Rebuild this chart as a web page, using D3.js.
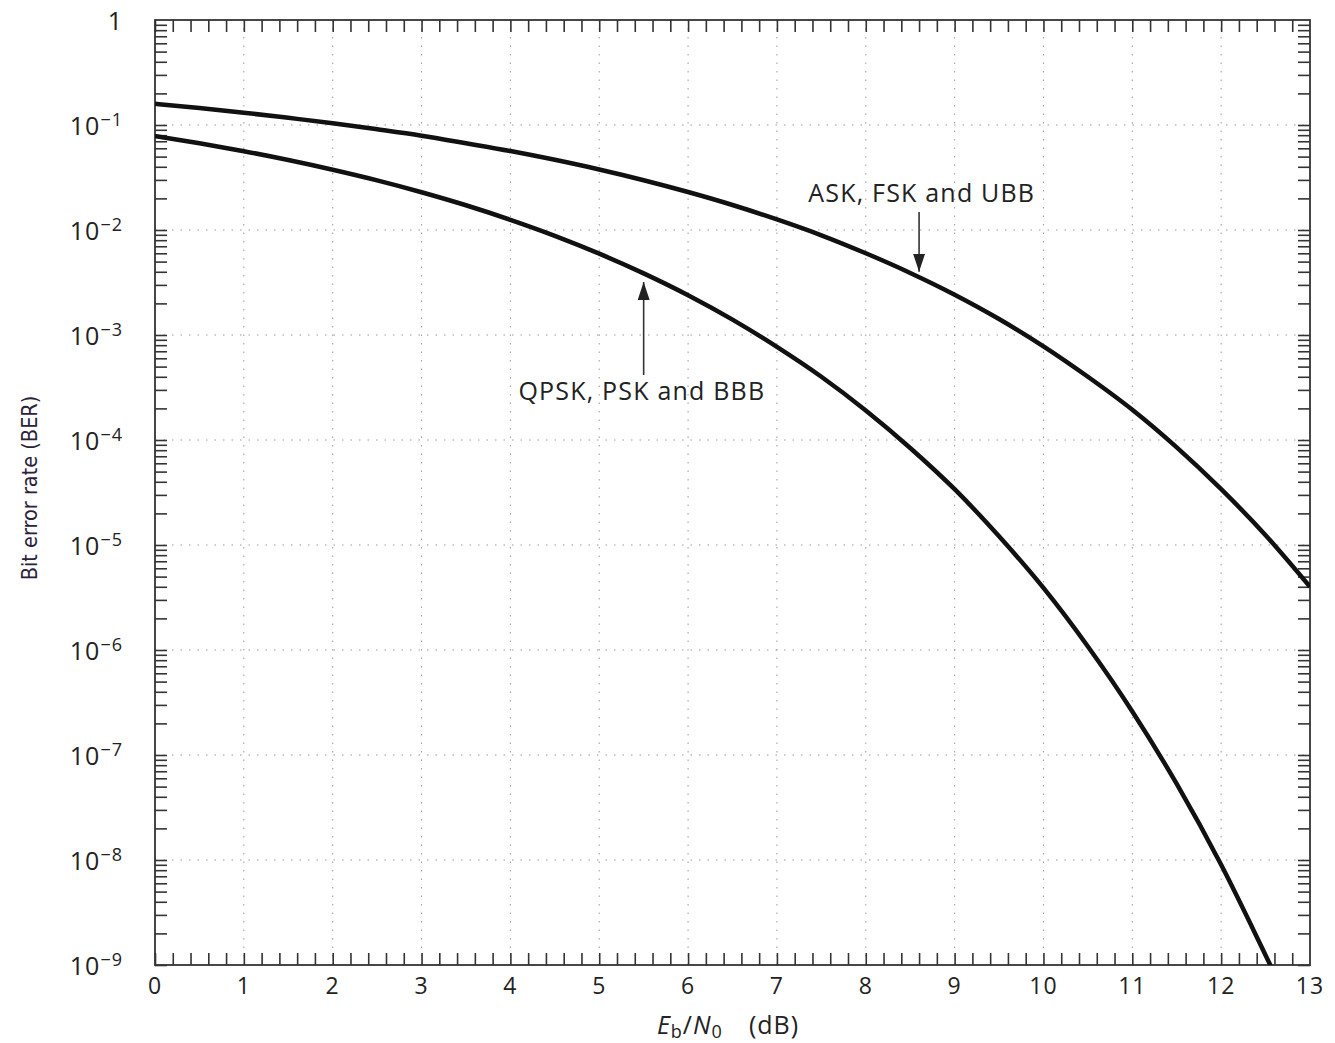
<!DOCTYPE html>
<html>
<head>
<meta charset="utf-8">
<script src="https://cdn.jsdelivr.net/npm/d3@7"></script>
<style>
  body { margin: 0; background: #fff; }
  svg { display: block; }
  .tick-lbl { font-family: "Open Sans", "Noto Sans", sans-serif; fill: #222; }
</style>
</head>
<body>
<svg width="1335" height="1043"></svg>
<script>
// Eb/N0 in dB at half-dB steps
var ebno = [0, 0.5, 1, 1.5, 2, 2.5, 3, 3.5, 4, 4.5, 5, 5.5, 6, 6.5, 7, 7.5, 8, 8.5, 9, 9.5,
            10, 10.5, 11, 11.5, 12, 12.5, 13];

// upper curve: ASK, FSK and UBB
var berAsk = [0.159, 0.145, 0.131, 0.117, 0.104, 0.091, 0.079, 0.067, 0.0565, 0.0466,
              0.0377, 0.0298, 0.023, 0.0173, 0.0126, 0.0089, 0.006, 0.0039, 0.00242, 0.00142,
              7.8e-4, 4.0e-4, 1.94e-4, 8.5e-5, 3.4e-5, 1.24e-5, 4.0e-6];

// lower curve: QPSK, PSK and BBB
var berPsk = [0.0786, 0.0671, 0.0563, 0.0464, 0.0375, 0.0297, 0.0229, 0.0172, 0.0125, 0.0088,
              0.00595, 0.00386, 0.00239, 0.0014, 7.7e-4, 4.0e-4, 1.91e-4, 8.4e-5, 3.4e-5, 1.21e-5,
              3.9e-6, 1.08e-6, 2.6e-7, 5.3e-8, 9.0e-9, 1.24e-9, 1.6e-10];

var xTicks = [0, 1, 2, 3, 4, 5, 6, 7, 8, 9, 10, 11, 12, 13];
var yDecades = [0, -1, -2, -3, -4, -5, -6, -7, -8, -9];

var svg = d3.select("svg");
var pLeft = 155, pRight = 1310, pTop = 20, pBottom = 965;

var x = d3.scaleLinear().domain([0, 13]).range([pLeft, pRight]);
var y = d3.scaleLog().domain([1e-9, 1]).range([pBottom, pTop]);

// grid
var grid = svg.append("g").attr("class", "grid");
grid.selectAll("line.gx")
    .data(xTicks.slice(1, -1))
    .enter().append("line")
    .attr("x1", function(d) { return x(d); })
    .attr("x2", function(d) { return x(d); })
    .attr("y1", pTop).attr("y2", pBottom)
    .attr("stroke", "#9a9a9a").attr("stroke-width", 1)
    .attr("stroke-dasharray", "1.5,7");
grid.selectAll("line.gy")
    .data(yDecades.slice(1, -1))
    .enter().append("line")
    .attr("y1", function(d) { return y(Math.pow(10, d)); })
    .attr("y2", function(d) { return y(Math.pow(10, d)); })
    .attr("x1", pLeft).attr("x2", pRight)
    .attr("stroke", "#9a9a9a").attr("stroke-width", 1)
    .attr("stroke-dasharray", "1.5,7");

// minor tick values
var xMinor = d3.range(0, 65).map(function(i) { return i / 5; });
var yMinor = [];
yDecades.slice(1).forEach(function(e) {
    for (var k = 1; k <= 9; k++) yMinor.push(k * Math.pow(10, e));
});

function styleAxis(g) {
    g.select(".domain").remove();
    g.selectAll(".tick line").attr("stroke", "#333").attr("stroke-width", 1.6);
}

svg.append("g").attr("transform", "translate(0," + pBottom + ")")
    .call(d3.axisBottom(x).tickValues(xMinor).tickSize(-12).tickFormat(""))
    .call(styleAxis);
svg.append("g").attr("transform", "translate(0," + pTop + ")")
    .call(d3.axisTop(x).tickValues(xMinor).tickSize(-12).tickFormat(""))
    .call(styleAxis);
svg.append("g").attr("transform", "translate(" + pLeft + ",0)")
    .call(d3.axisLeft(y).tickValues(yMinor).tickSize(-12).tickFormat(""))
    .call(styleAxis);
svg.append("g").attr("transform", "translate(" + pRight + ",0)")
    .call(d3.axisRight(y).tickValues(yMinor).tickSize(-12).tickFormat(""))
    .call(styleAxis);

// frame
svg.append("rect")
    .attr("x", pLeft).attr("y", pTop)
    .attr("width", pRight - pLeft).attr("height", pBottom - pTop)
    .attr("fill", "none").attr("stroke", "#333").attr("stroke-width", 1.8);

// x tick labels
svg.append("g").selectAll("text")
    .data(xTicks)
    .enter().append("text")
    .attr("class", "tick-lbl")
    .attr("x", function(d) { return x(d); })
    .attr("y", pBottom + 29)
    .attr("text-anchor", "middle")
    .attr("font-size", 23)
    .attr("letter-spacing", 1)
    .text(function(d) { return d; });

// y tick labels
var yl = svg.append("g").selectAll("text")
    .data(yDecades)
    .enter().append("text")
    .attr("class", "tick-lbl")
    .attr("x", 123)
    .attr("y", function(d) { return y(Math.pow(10, d)) + 10; })
    .attr("text-anchor", "end")
    .attr("font-size", 25)
    .attr("letter-spacing", 1);
yl.each(function(d) {
    var t = d3.select(this);
    if (d === 0) {
        t.text("1");
    } else {
        t.append("tspan").text("10");
        t.append("tspan").attr("font-size", 18).attr("dy", -9).text("\u2212" + (-d));
    }
});

// axis titles
svg.append("text")
    .attr("transform", "translate(37," + 488 + ") rotate(-90)")
    .attr("text-anchor", "middle")
    .attr("font-family", "'DejaVu Sans Condensed', 'Liberation Sans Narrow', sans-serif")
    .attr("font-size", 21.5)
    .attr("fill", "#2a2238")
    .text("Bit error rate (BER)");

var xt = svg.append("text")
    .attr("x", 728).attr("y", 1034)
    .attr("text-anchor", "middle")
    .attr("font-family", "'Open Sans', sans-serif")
    .attr("font-size", 25)
    .attr("letter-spacing", 1)
    .attr("fill", "#222");
xt.append("tspan").attr("font-style", "italic").text("E");
xt.append("tspan").attr("font-size", 18).attr("dy", 4).text("b");
xt.append("tspan").attr("dy", -4).text("/");
xt.append("tspan").attr("font-style", "italic").text("N");
xt.append("tspan").attr("font-size", 18).attr("dy", 4).text("0");
xt.append("tspan").attr("dy", -4).text("\u2003(dB)");

// curves
svg.append("clipPath").attr("id", "plot-clip")
    .append("rect").attr("x", pLeft).attr("y", pTop)
    .attr("width", pRight - pLeft).attr("height", pBottom - pTop);

var line = d3.line()
    .x(function(d) { return x(d[0]); })
    .y(function(d) { return y(d[1]); })
    .curve(d3.curveMonotoneX);

[berAsk, berPsk].forEach(function(ser) {
    svg.append("path")
        .datum(d3.zip(ebno, ser))
        .attr("clip-path", "url(#plot-clip)")
        .attr("fill", "none")
        .attr("stroke", "#111")
        .attr("stroke-width", 4.5)
        .attr("d", line);
});

// annotations
svg.append("defs").append("marker")
    .attr("id", "head").attr("viewBox", "0 0 10 10")
    .attr("refX", 10).attr("refY", 5)
    .attr("markerWidth", 18).attr("markerHeight", 12)
    .attr("markerUnits", "userSpaceOnUse")
    .attr("preserveAspectRatio", "none")
    .attr("orient", "auto")
    .append("path").attr("d", "M0,0 L10,5 L0,10 z").attr("fill", "#222");

var notes = [
    { text: "ASK, FSK and UBB", lx: 8.63, ly: 0.0185, ax: 8.6, y0: 0.0148, y1: 0.0040 },
    { text: "QPSK, PSK and BBB", lx: 5.48, ly: 2.4e-4, ax: 5.5, y0: 4.16e-4, y1: 0.0032 }
];
notes.forEach(function(n) {
    svg.append("line")
        .attr("x1", x(n.ax)).attr("x2", x(n.ax))
        .attr("y1", y(n.y0)).attr("y2", y(n.y1))
        .attr("stroke", "#333").attr("stroke-width", 1.6)
        .attr("marker-end", "url(#head)");
    svg.append("text")
        .attr("x", x(n.lx)).attr("y", y(n.ly))
        .attr("text-anchor", "middle")
        .attr("font-family", "'Open Sans', sans-serif")
        .attr("font-size", 25)
        .attr("letter-spacing", 1.2)
        .attr("fill", "#222")
        .text(n.text);
});
</script>
</body>
</html>
